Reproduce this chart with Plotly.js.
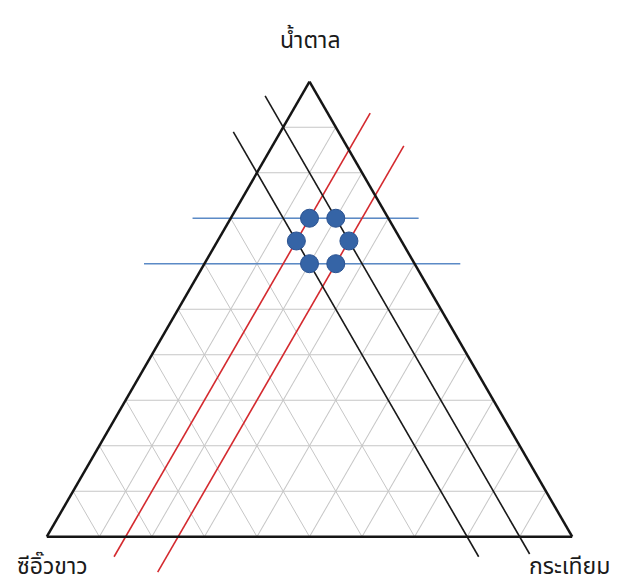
<!DOCTYPE html>
<html>
<head>
<meta charset="utf-8">
<script src="https://cdn.plot.ly/plotly-3.0.1.min.js"></script>
<style>html,body{margin:0;padding:0;background:#fff}</style>
</head>
<body>
<div id="chart" style="width:620px;height:586px"></div>
<script>
// Mixture components: apex, bottom-left, bottom-right
const componentNames = ['น้ำตาล', 'ซีอิ๊วขาว', 'กระเทียม'];

// Design points (fractions of sugar, soy sauce, garlic)
const pointSugar  = [0.70, 0.70, 0.65, 0.65, 0.60, 0.60];
const pointSoy    = [0.15, 0.10, 0.20, 0.10, 0.20, 0.15];
const pointGarlic = [0.15, 0.20, 0.15, 0.25, 0.20, 0.25];

// Constant-sugar limits (blue): start/end of each line
const sugarLimitSugar  = [[0.70, 0.70], [0.60, 0.60]];
const sugarLimitSoy    = [[0.3726, -0.0577], [0.515, -0.087]];
const sugarLimitGarlic = [[-0.0726, 0.3577], [-0.115, 0.487]];

// Constant-garlic limits (red)
const garlicLimitSugar  = [[-0.044, 0.931], [-0.078, 0.859]];
const garlicLimitSoy    = [[0.894, -0.081], [0.828, -0.109]];
const garlicLimitGarlic = [[0.15, 0.15], [0.25, 0.25]];

// Constant-soy limits (black)
const soyLimitSugar  = [[0.969, -0.038], [0.890, -0.044]];
const soyLimitSoy    = [[0.10, 0.10], [0.20, 0.20]];
const soyLimitGarlic = [[-0.069, 0.938], [-0.090, 0.844]];

function limitLines(aList, bList, cList, color, width) {
  return aList.map((a, i) => ({
    type: 'scatterternary', mode: 'lines',
    a: a, b: bList[i], c: cList[i],
    line: {color: color, width: width},
    cliponaxis: false, hoverinfo: 'skip', showlegend: false
  }));
}

const traces = [
  ...limitLines(sugarLimitSugar, sugarLimitSoy, sugarLimitGarlic, '#5b8ac6', 1.6),
  ...limitLines(garlicLimitSugar, garlicLimitSoy, garlicLimitGarlic, '#d42a2f', 1.6),
  ...limitLines(soyLimitSugar, soyLimitSoy, soyLimitGarlic, '#1a1a1a', 1.6),
  {
    type: 'scatterternary', mode: 'markers',
    a: pointSugar, b: pointSoy, c: pointGarlic,
    marker: {size: 18, color: '#3564a6', line: {color: '#2a5291', width: 1}},
    cliponaxis: false, hoverinfo: 'skip', showlegend: false
  }
];

const axisStyle = {
  title: {text: ''},
  showticklabels: false, ticks: '',
  tickmode: 'linear', tick0: 0, dtick: 0.1,
  showgrid: true, gridcolor: '#c6c6c6', gridwidth: 1,
  showline: true, linecolor: '#151515', linewidth: 2.5
};

const labelFont = {family: 'Tahoma, "Noto Sans Thai", "Noto Sans", sans-serif', size: 23, color: '#1a1a1a'};

const layout = {
  width: 620, height: 586,
  margin: {l: 0, r: 0, t: 0, b: 0},
  paper_bgcolor: '#ffffff',
  showlegend: false,
  ternary: {
    sum: 1,
    domain: {x: [0.0755, 0.9229], y: [0.0836, 0.861]},
    bgcolor: 'rgba(0,0,0,0)',
    aaxis: axisStyle, baxis: axisStyle, caxis: axisStyle
  },
  annotations: [
    {text: componentNames[0], xref: 'paper', yref: 'paper', x: 310 / 620, y: (586 - 41) / 586,
     xanchor: 'center', yanchor: 'middle', showarrow: false, font: labelFont},
    {text: componentNames[1], xref: 'paper', yref: 'paper', x: 52 / 620, y: (586 - 567) / 586,
     xanchor: 'center', yanchor: 'middle', showarrow: false, font: labelFont},
    {text: componentNames[2], xref: 'paper', yref: 'paper', x: 569 / 620, y: (586 - 567) / 586,
     xanchor: 'center', yanchor: 'middle', showarrow: false, font: labelFont}
  ]
};

Plotly.newPlot('chart', traces, layout, {displayModeBar: false, staticPlot: true}).then(gd => {
  // let the limit lines run past the triangle edges
  gd.querySelectorAll('.ternary .frontplot [clip-path]').forEach(el => el.removeAttribute('clip-path'));
});
</script>
</body>
</html>
